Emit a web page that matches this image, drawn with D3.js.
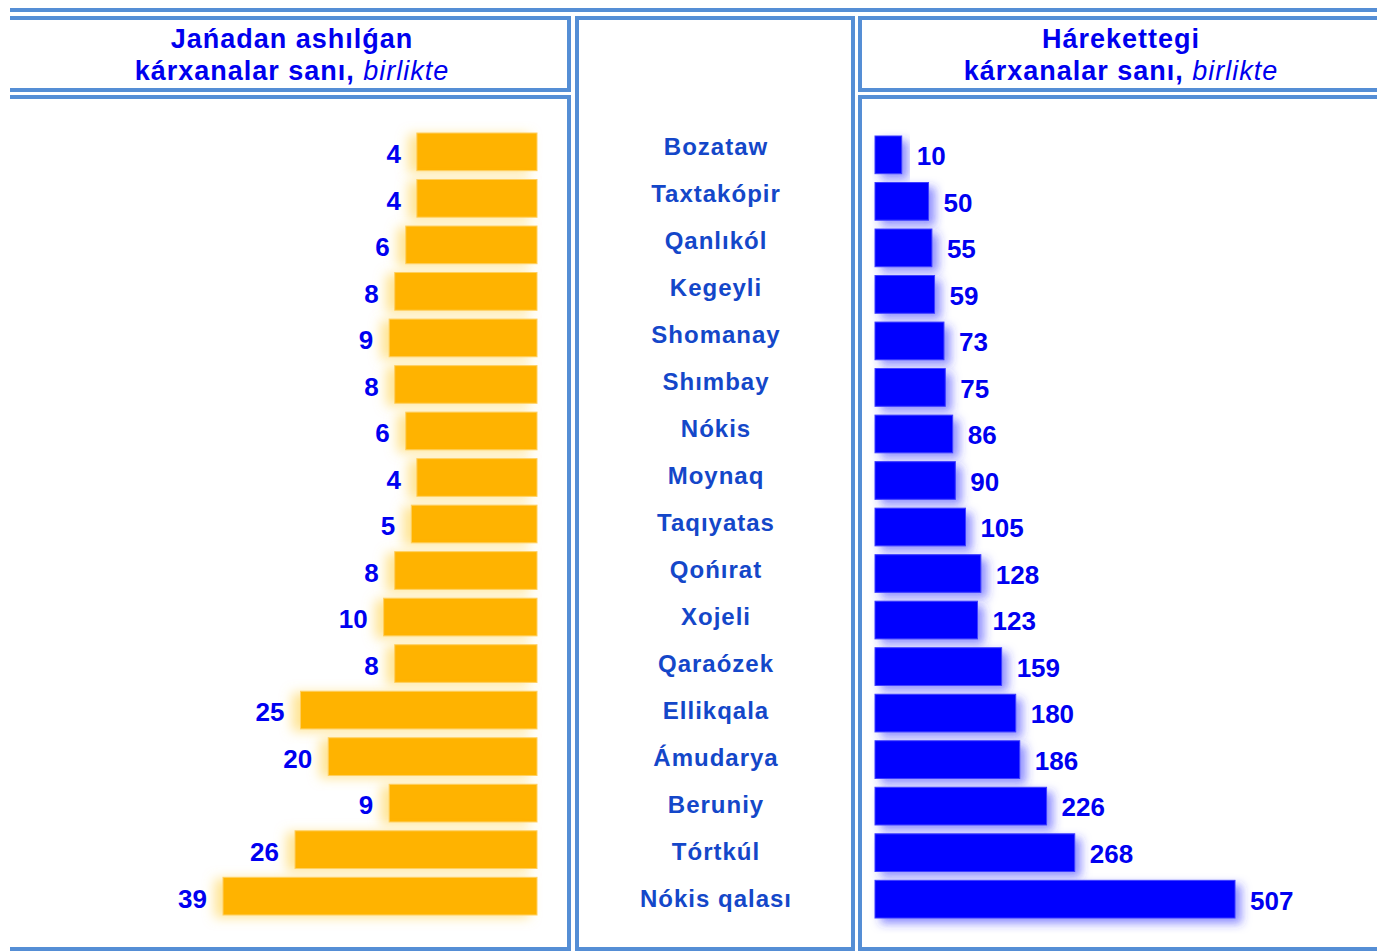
<html>
<head>
  <meta charset="utf-8">
  <script src="https://d3js.org/d3.v7.min.js"></script>
  <style>
    body { margin: 0; background: white; }
    .frame { fill: none; stroke: #558ED5; stroke-width: 4px; }
    .head { font-family: "Liberation Sans", Arial, sans-serif; font-size: 27px; font-weight: bold; fill: #0000EE; letter-spacing: 1px; }
    .head .it { font-style: italic; font-weight: normal; }
    .district { font-family: "Liberation Sans", Arial, sans-serif; font-size: 24px; font-weight: bold; fill: #1447C9; letter-spacing: 1px; }
    .value { font-family: "Liberation Sans", Arial, sans-serif; font-size: 26px; font-weight: bold; fill: #0000F0; }
  </style>
</head>
<body>
  <svg id="chart" width="1377" height="951"></svg>
  <script>
    // data
    const districts = ["Bozataw", "Taxtakópir", "Qanlıkól", "Kegeyli", "Shomanay", "Shımbay", "Nókis", "Moynaq",
                       "Taqıyatas", "Qońırat", "Xojeli", "Qaraózek", "Ellikqala", "Ámudarya", "Beruniy", "Tórtkúl", "Nókis qalası"];
    const newEnterprises = [4, 4, 6, 8, 9, 8, 6, 4, 5, 8, 10, 8, 25, 20, 9, 26, 39];
    const activeEnterprises = [10, 50, 55, 59, 73, 75, 86, 90, 105, 128, 123, 159, 180, 186, 226, 268, 507];
    const leftTitle = ["Jańadan ashılǵan", "kárxanalar sanı, ", "birlikte"];
    const rightTitle = ["Hárekettegi", "kárxanalar sanı, ", "birlikte"];

    const svg = d3.select("#chart");
    const defs = svg.append("defs");

    // soft glow behind the bars
    function glow(id, dx, dy, blur, color, opacity) {
      const f = defs.append("filter").attr("id", id)
        .attr("x", "-30%").attr("y", "-40%").attr("width", "160%").attr("height", "180%");
      f.append("feGaussianBlur").attr("in", "SourceAlpha").attr("stdDeviation", blur).attr("result", "b");
      f.append("feOffset").attr("in", "b").attr("dx", dx).attr("dy", dy).attr("result", "o");
      f.append("feFlood").attr("flood-color", color).attr("flood-opacity", opacity);
      f.append("feComposite").attr("in2", "o").attr("operator", "in").attr("result", "s");
      const m = f.append("feMerge");
      m.append("feMergeNode").attr("in", "s");
      m.append("feMergeNode").attr("in", "SourceGraphic");
    }
    glow("glowOrange", -8, 2, 6, "#FFD966", 0.7);
    glow("glowBlue", 6, 5, 5, "#3333FF", 0.55);

    // frames
    const frames = svg.append("g");
    frames.append("path").attr("class", "frame").attr("d", "M10,10H1377");
    frames.append("path").attr("class", "frame").attr("d", "M10,18H569V90H10");
    frames.append("path").attr("class", "frame").attr("d", "M10,97H569V949H10");
    frames.append("rect").attr("class", "frame").attr("x", 577).attr("y", 18).attr("width", 276).attr("height", 931);
    frames.append("path").attr("class", "frame").attr("d", "M1380,18H860V90H1380");
    frames.append("path").attr("class", "frame").attr("d", "M1380,97H860V949H1380");

    // headers
    function header(x, lines) {
      const t = svg.append("text").attr("class", "head").attr("text-anchor", "middle");
      t.append("tspan").attr("x", x).attr("y", 48).text(lines[0]);
      const l2 = t.append("tspan").attr("x", x).attr("y", 80);
      l2.append("tspan").text(lines[1]);
      l2.append("tspan").attr("class", "it").text(lines[2]);
    }
    header(292, leftTitle);
    header(1121, rightTitle);

    // scales
    const yLeft = d3.scaleBand().domain(districts).range([133, 915]).paddingInner(0.19);
    const yRight = d3.scaleBand().domain(districts).range([136, 918]).paddingInner(0.19);
    const yMid = d3.scalePoint().domain(districts).range([146, 898]);
    const leftLen = d3.scaleLinear().domain([0, d3.max(newEnterprises)]).range([98, 314]);
    const rightLen = d3.scaleLinear().domain([0, d3.max(activeEnterprises)]).range([20, 360]);
    const leftEnd = 537, rightStart = 875;

    const leftData = districts.map((d, i) => ({ name: d, value: newEnterprises[i] }));
    const rightData = districts.map((d, i) => ({ name: d, value: activeEnterprises[i] }));

    // left bars
    const lg = svg.append("g");
    lg.selectAll("rect").data(leftData).join("rect")
      .attr("x", d => leftEnd - leftLen(d.value))
      .attr("y", d => yLeft(d.name))
      .attr("width", d => leftLen(d.value))
      .attr("height", yLeft.bandwidth())
      .attr("fill", "#FFB300")
      .attr("stroke", "#FFD060")
      .attr("stroke-width", 1)
      .attr("filter", "url(#glowOrange)");
    lg.selectAll("text").data(leftData).join("text")
      .attr("class", "value")
      .attr("text-anchor", "end")
      .attr("x", d => leftEnd - leftLen(d.value) - 16)
      .attr("y", d => yLeft(d.name) + yLeft.bandwidth() / 2 + 2)
      .attr("dy", "0.36em")
      .text(d => d.value);

    // district names
    svg.append("g").selectAll("text").data(districts).join("text")
      .attr("class", "district")
      .attr("text-anchor", "middle")
      .attr("x", 716)
      .attr("y", d => yMid(d))
      .attr("dy", "0.36em")
      .text(d => d);

    // right bars
    const rg = svg.append("g");
    rg.selectAll("rect").data(rightData).join("rect")
      .attr("x", rightStart)
      .attr("y", d => yRight(d.name))
      .attr("width", d => rightLen(d.value))
      .attr("height", yRight.bandwidth())
      .attr("fill", "#0000FF")
      .attr("stroke", "#3D3DFF")
      .attr("stroke-width", 1)
      .attr("filter", "url(#glowBlue)");
    rg.selectAll("text").data(rightData).join("text")
      .attr("class", "value")
      .attr("x", d => rightStart + rightLen(d.value) + 15)
      .attr("y", d => yRight(d.name) + yRight.bandwidth() / 2 + 1)
      .attr("dy", "0.36em")
      .text(d => d.value);
  </script>
</body>
</html>
